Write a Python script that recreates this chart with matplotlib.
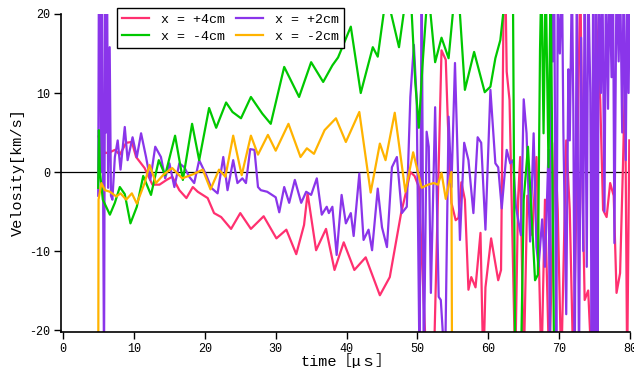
import matplotlib
matplotlib.use("Agg")
import matplotlib.pyplot as plt

plt.rcParams['font.family'] = ['Liberation Mono', 'Noto Sans CJK JP', 'DejaVu Sans']
plt.rcParams['axes.unicode_minus'] = False

# ---- data ----
t_red = [5.0, 5.2, 5.9, 6.6, 7.3, 8.0, 8.9, 9.7, 10.3, 11.5, 12.6, 13.6, 14.6, 15.4, 16.4, 17.4,
         18.3, 19.0, 19.7, 20.4, 21.3, 22.3, 23.7, 25.0, 26.5, 28.3, 30.1, 31.5, 32.9, 34.0, 34.5,
         35.7, 37.1, 38.3, 39.6, 41.1, 42.7, 44.7, 46.1, 47.7, 48.4, 49.0, 49.6, 50.2, 51.3, 52.3,
         53.4, 54.0, 54.3, 54.8, 55.4, 55.8, 56.2, 56.7, 57.2, 57.6, 58.2, 58.9, 59.3, 59.6, 60.4,
         61.4, 61.8, 62.2, 62.4, 62.6, 63.0, 63.8, 64.2, 64.5, 65.0, 65.5, 66.2, 66.8, 67.5, 68.0,
         68.6, 69.4, 69.8, 70.3, 71.0, 71.5, 72.0, 72.7, 73.0, 73.3, 73.6, 74.1, 74.6, 75.2, 75.8,
         76.2, 76.7, 77.2, 77.7, 78.1, 78.6, 79.0, 79.3, 79.6, 79.9]
v_red = [4.5, 3.8, 2.4, 2.5, 2.8, 2.2, 3.7, 3.8, 1.9, 0.5, -1.6, -1.6, -1.0, -0.6, -2.3, -3.3,
         -1.9, -2.5, -2.9, -3.3, -5.2, -5.7, -7.2, -5.2, -7.2, -5.6, -8.4, -7.3, -10.4, -6.7, -2.7,
         -9.9, -7.2, -12.4, -8.9, -12.4, -10.8, -15.6, -13.3, -5.2, -2.5, 0.0, -0.5, -1.9, -25, -25,
         15.4, 14.2, 6.2, -3.9, -6.1, -5.8, -1.3, -3.5, -14.9, -13.3, -14.6, -7.7, -25, -14.6, -8.4,
         -13.7, -12.4, 25, 25, 12.7, 9.1, -25, -3.5, 1.9, -25, -3.0, -8.0, 1.9, -25, -3.5,
         -25, 3.7, -4.8, -25, 4.0, -4.8, -25, 9.1, 25, -2.0, -16.2, -15.0, -25, 20, 9.1,
         -4.8, -5.7, -1.4, -3.0, -15.3, -12.8, 0.6, 12.0, -25, 4.0]

t_green = [4.95, 5.05, 5.2, 5.6, 6.6, 7.3, 8.0, 8.7, 9.5, 10.4, 11.3, 12.4, 13.5, 14.4, 15.8, 16.9,
           18.2, 19.2, 20.6, 21.6, 23.0, 23.9, 25.1, 26.5, 28.1, 29.3, 31.2, 33.3, 35.0, 36.7, 38.0,
           38.8, 40.6, 42.0, 43.7, 44.4, 45.3, 45.8, 46.3, 47.4, 48.2, 48.7, 49.2, 49.7, 50.2, 50.7,
           51.3, 51.8, 52.5, 53.4, 54.4, 55.2, 56.0, 56.7, 58.0, 59.5, 60.3, 61.0, 61.7, 62.1, 62.8,
           63.5, 63.8, 64.6, 65.0, 65.6, 66.0, 66.6, 67.0, 67.3, 67.5, 67.8, 68.1, 68.5, 68.8, 69.3,
           69.8]
v_green = [-2.0, 5.3, 0.0, -3.5, -5.4, -3.9, -1.9, -2.8, -6.5, -4.4, -0.5, -2.9, 1.5, -0.4, 4.6, -1.0,
           6.1, 1.5, 8.1, 5.6, 8.8, 7.6, 6.8, 9.5, 7.4, 6.1, 13.3, 9.5, 13.9, 11.4, 13.5,
           14.5, 18.4, 10.0, 15.8, 14.6, 20.5, 23, 20, 15.8, 21, 24, 20, 11.3, 5.6, 13.3,
           21, 20.5, 13.9, 17.0, 14.4, 22, 20, 10.4, 15.2, 10.1, 10.8, 14.4, 16.7, 20, 25,
           20, -25, -25, -3.5, 3.2, -3.5, -13.7, -13.0, 15.4, 25, 4.9, 25, 0.6, 25, -25,
           -30]

t_purple = [4.95, 5.05, 5.2, 5.35, 5.5, 5.6, 5.77, 5.85, 5.95, 6.05, 6.2, 6.35, 6.57, 6.75, 6.95,
            7.3, 7.7, 8.1, 8.7, 9.1, 9.8, 10.4, 11.0, 11.7, 12.3, 13.0, 13.8, 14.4, 15.0, 15.7,
            16.4, 17.1, 17.8, 18.5, 19.2, 20.2, 20.9, 21.8, 22.6, 23.2, 24.0, 24.6, 25.3, 25.8,
            26.4, 27.0, 27.5, 27.9, 28.8, 30.0, 30.5, 31.2, 31.9, 32.7, 33.6, 34.3, 35.0, 35.8,
            36.5, 37.2, 37.5, 38.0, 38.6, 39.3, 39.9, 40.6, 41.0, 41.8, 42.4, 43.1, 43.6, 44.4,
            45.0, 45.7, 46.4, 47.1, 47.8, 48.5, 49.0, 49.5, 49.9, 50.3, 50.6, 50.9, 51.3, 51.6,
            51.9, 52.5, 53.0, 53.3, 53.9, 54.4, 54.8, 55.3, 56.0, 56.6, 57.2, 57.9, 58.5, 59.0,
            59.6, 60.3, 61.0, 61.4, 61.9, 62.6, 63.1, 63.5, 63.9, 64.6, 65.0, 65.4, 65.9, 66.4,
            66.8, 67.1, 67.6, 68.0, 68.5, 68.7, 68.9, 69.1, 69.3, 69.6, 69.8, 70.1, 70.4, 70.6,
            71.0, 71.3, 71.5, 71.8, 72.0, 72.2, 72.5, 72.8, 73.1, 73.4, 73.6, 73.9, 74.1, 74.4,
            74.6, 74.8, 75.0, 75.2, 75.4, 75.6, 75.9, 76.1, 76.4, 76.6, 76.9, 77.1, 77.4, 77.6,
            77.8, 78.1, 78.4, 78.6, 78.9, 79.1, 79.4, 79.6, 79.8, 80.0]
v_purple = [-3.0, 25, 25, 0.0, 25, 5.0, -25, 0.0, 25, 5.0, 25, -2.0, 15.8, -3.0, -3.5,
            1.9, 4.0, 0.3, 5.7, 1.5, 4.4, 1.9, 4.9, 1.9, -1.0, 3.2, 1.9, -0.8, 1.1, -1.9,
            1.1, 0.6, -0.6, -1.4, 1.5, -0.4, -2.0, -2.7, 1.9, -2.3, 1.5, -1.4, -0.8, -1.4,
            2.9, 2.8, -1.9, -2.3, -2.5, -3.2, -5.1, -1.9, -3.9, -1.0, -3.9, -2.5, -2.9, -0.8,
            -5.4, -4.4, -5.2, -4.4, -10.5, -2.9, -6.5, -5.2, -8.1, -0.2, -8.6, -7.3, -9.9, -2.1,
            -7.0, -9.5, 0.6, 1.9, -5.2, -4.4, 9.5, 16.1, 9.1, -25, 25, -25, 5.1, 3.2,
            -15.3, 8.2, -15.8, -16.2, -25, 7.0, -1.9, 13.8, -8.6, 3.7, 1.5, -5.2, 4.4, 3.7,
            -7.3, 10.4, 1.1, 0.6, -4.6, 2.8, 1.1, 1.5, -4.4, -8.0, 9.2, 4.9, -8.8, 4.9,
            -9.5, -12.0, -6.0, -12.0, 2.8, -25, 25, 14.0, 25, -25, 22, 15.0, 25, 5.0,
            -18.0, 13.0, 4.0, 25, 8.0, -25, 25, -25, 17.0, -10.0, 25, -12.0, 25, 10.0,
            -25, 25, -25, 25, -25, 25, 10.0, 25, -5.0, 25, 8.0, 25, 12.0, 25,
            -9.0, 25, 14.0, 25, 5.0, 25, 1.5, 25, 10.0, 25]

t_orange = [4.95, 5.0, 5.4, 5.9, 6.6, 7.5, 8.1, 8.9, 9.7, 10.4, 11.5, 12.2, 13.1, 14.2, 15.4, 16.8,
            18.3, 19.7, 20.8, 22.0, 22.9, 24.0, 25.2, 26.5, 27.5, 28.9, 30.0, 31.8, 33.5, 34.4,
            35.4, 36.9, 38.5, 39.9, 41.8, 43.4, 44.7, 45.5, 46.8, 48.3, 49.4, 50.6, 51.5, 52.3,
            52.9, 53.4, 54.0, 54.8, 54.9]
v_orange = [-30, -3.5, -1.4, -2.3, -2.5, -3.1, -2.7, -3.5, -2.7, -4.0, -1.4, 0.9, -1.4, -0.3, 0.5, -0.8,
            -0.3, 0.3, -2.2, 0.3, -0.6, 4.6, -0.4, 4.6, 2.2, 4.7, 2.7, 6.1, 1.9, 3.0,
            2.3, 5.3, 6.8, 3.8, 7.6, -2.6, 3.6, 1.5, 7.5, -2.5, 2.5, -2.0, -1.6, -1.4,
            -1.6, -0.1, -3.4, 0.0, -30]

labels = ["x = +4cm", "x = +2cm", "x = -4cm", "x = -2cm"]
colors = ["#FF3070", "#8A35EA", "#00C800", "#FFB300"]

x_ticks = [0, 10, 20, 30, 40, 50, 60, 70, 80]
y_ticks = [-20, -10, 0, 10, 20]

# ---- figure ----
W, H = 634, 368
fig = plt.figure(figsize=(W / 100, H / 100), dpi=100)
ax = fig.add_axes([61 / W, 1 - 332 / H, (630 - 61) / W, (332 - 14) / H])

lw = 1.6
l_red, = ax.plot(t_red, v_red, color=colors[0], lw=lw, label=labels[0])
l_pur, = ax.plot(t_purple, v_purple, color=colors[1], lw=lw, label=labels[1])
l_grn, = ax.plot(t_green, v_green, color=colors[2], lw=lw, label=labels[2])
l_org, = ax.plot(t_orange, v_orange, color=colors[3], lw=lw, label=labels[3])
ax.axhline(0, color='black', lw=0.9, zorder=0.5)

ax.set_xlim(-0.3, 80)
ax.set_ylim(-20.25, 20)
ax.set_xticks(x_ticks)
ax.set_yticks(y_ticks)
ax.set_xticklabels([str(v) for v in x_ticks])
ax.set_yticklabels([str(v) for v in y_ticks])
ax.tick_params(direction='out', length=5, width=1, labelsize=8.5, pad=3)
for s in ['top', 'right']:
    ax.spines[s].set_visible(False)
for s in ['left', 'bottom']:
    ax.spines[s].set_linewidth(1.2)

leg = fig.legend(handles=[l_red, l_grn, l_pur, l_org], ncol=2,
                 loc='upper left', bbox_to_anchor=(117 / W, 1 - 8 / H),
                 frameon=True, fancybox=False, edgecolor='black', framealpha=1,
                 fontsize=9.5, handlelength=2.0, handletextpad=0.9, columnspacing=0.9,
                 borderpad=0.4, labelspacing=0.4, borderaxespad=0)
leg.get_frame().set_linewidth(1.0)

fig.text(18 / W, 1 - 172 / H, "Velosity[km/s]", rotation=90, ha='center', va='center',
         fontsize=11)
fig.text(346 / W, 1 - 361 / H, "time［μｓ］", ha='center', va='center', fontsize=11,
         family=['Liberation Mono', 'Noto Sans CJK JP'])

fig.savefig("out.png", dpi=100)
